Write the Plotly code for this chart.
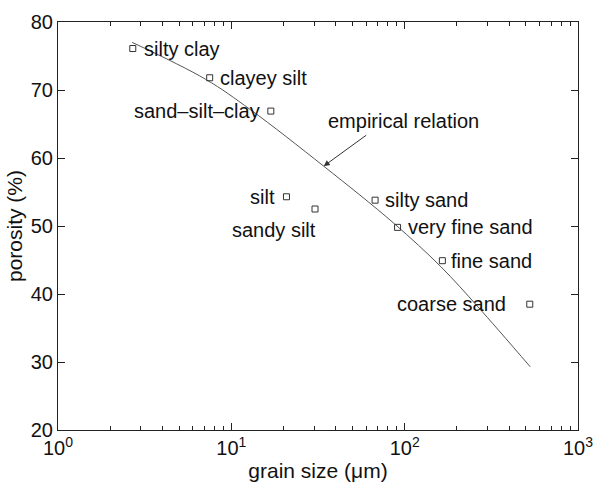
import numpy as np
import plotly.graph_objects as go

# Data
sediments = ["silty clay", "clayey silt", "sand\u2013silt\u2013clay", "silt", "sandy silt",
             "silty sand", "very fine sand", "fine sand", "coarse sand"]
grain_size = [2.7, 7.5, 16.9, 20.8, 30.4, 67.5, 91, 165, 527]
porosity = [76.1, 71.8, 66.9, 54.3, 52.5, 53.8, 49.8, 44.9, 38.5]

# empirical relation curve
curve_x = [2.68, 7.08, 12.9, 34.1, 86.6, 161.9, 265, 530]
curve_y = [77.0, 71.6, 67.1, 58.8, 50.4, 44.0, 38.1, 29.3]

# label placement (anchor, xshift, yshift)
label_anchor = ["left", "left", "right", "right", "right", "left", "left", "left", "right"]
label_dx = [9, 8, -9, -9, 3, 8, 8, 7, -22]
label_dy = [0, 0, 0, 0, -21, 0, 0, 0, 0]

font = "Liberation Sans, Arial, Helvetica, sans-serif"

fig = go.Figure()
fig.add_trace(go.Scatter(x=curve_x, y=curve_y, mode="lines",
                         line=dict(color="#555555", width=1, shape="spline", smoothing=1.0),
                         hoverinfo="skip", showlegend=False))
fig.add_trace(go.Scatter(x=grain_size, y=porosity, mode="markers",
                         marker=dict(symbol="square-open", size=6, color="#333333",
                                     line=dict(width=1)),
                         showlegend=False))

for name, gx, py, anc, dx, dy in zip(sediments, grain_size, porosity, label_anchor, label_dx, label_dy):
    fig.add_annotation(x=np.log10(gx), y=py, text=name, showarrow=False,
                       xanchor=anc, yanchor="middle", xshift=dx, yshift=dy,
                       font=dict(family=font, size=20, color="#111111"))

# empirical relation arrow and text
fig.add_annotation(x=np.log10(34.1), y=58.8, text="", showarrow=True,
                   ax=44, ay=-32, arrowhead=2, arrowsize=1.2, arrowwidth=1,
                   arrowcolor="#333333")
fig.add_annotation(x=1.995, y=65.4, text="empirical relation", showarrow=False,
                   font=dict(family=font, size=20, color="#111111"))

fig.update_layout(
    width=593, height=484,
    margin=dict(l=58, r=15, t=22, b=54),
    paper_bgcolor="white", plot_bgcolor="white",
    font=dict(family=font, size=20, color="#111111"),
)
fig.update_xaxes(type="log", range=[0, 3], automargin=False,
                 tickvals=[1, 10, 100, 1000],
                 ticktext=["10<sup>0</sup>", "10<sup>1</sup>", "10<sup>2</sup>", "10<sup>3</sup>"],
                 ticklabeloverflow="allow",
                 ticks="inside", ticklen=7, tickcolor="#222222",
                 minor=dict(ticks="inside", ticklen=4, tickcolor="#222222",
                            tickvals=[m * 10 ** d for d in range(3) for m in range(2, 10)]),
                 showline=True, linecolor="#222222", linewidth=1, mirror="ticks",
                 showgrid=False, zeroline=False,
                 title=dict(text="grain size (\u03bcm)", standoff=5, font=dict(size=21)),
                 tickfont=dict(size=20))
fig.update_yaxes(range=[20, 80], tickvals=[20, 30, 40, 50, 60, 70, 80], automargin=False,
                 ticklabeloverflow="allow",
                 ticks="inside", ticklen=7, tickcolor="#222222",
                 showline=True, linecolor="#222222", linewidth=1, mirror="ticks",
                 showgrid=False, zeroline=False,
                 title=dict(text="porosity (%)", standoff=2, font=dict(size=21)),
                 tickfont=dict(size=20))

fig.write_html("out.html")
